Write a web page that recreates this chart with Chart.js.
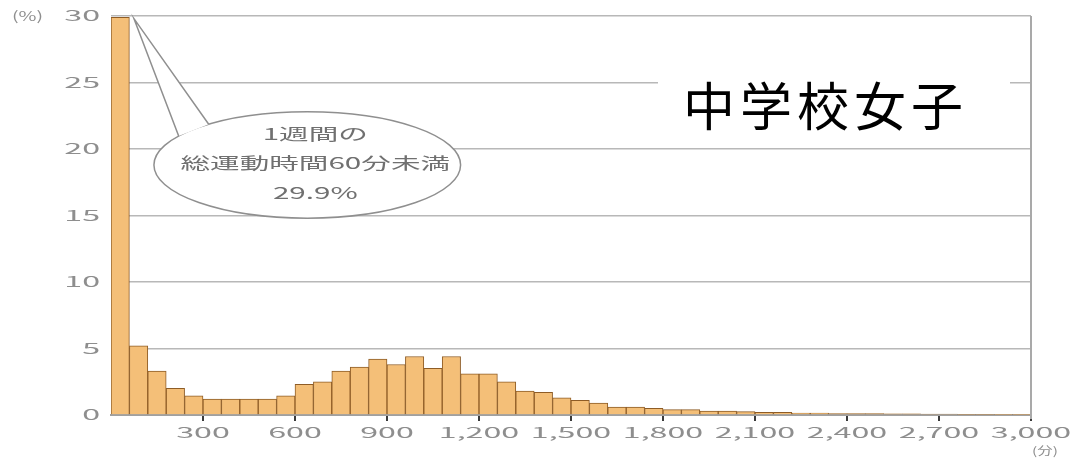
<!DOCTYPE html>
<html lang="ja">
<head>
<meta charset="utf-8">
<script src="https://cdn.jsdelivr.net/npm/chart.js@4.4.1/dist/chart.umd.min.js"></script>
<style>
  html, body { margin: 0; padding: 0; background: #fff; }
  #wrap { width: 1070px; height: 460px; }
</style>
</head>
<body>
<div id="wrap"><canvas id="chart"></canvas></div>
<script>
// weekly total exercise time, 60-minute bins (start minute of each bin)
const binStarts = [
  0, 60, 120, 180, 240, 300, 360, 420, 480, 540,
  600, 660, 720, 780, 840, 900, 960, 1020, 1080, 1140,
  1200, 1260, 1320, 1380, 1440, 1500, 1560, 1620, 1680, 1740,
  1800, 1860, 1920, 1980, 2040, 2100, 2160, 2220, 2280, 2340,
  2400, 2460, 2520, 2580, 2640, 2700, 2760, 2820, 2880, 2940
];
const percents = [
  29.9, 5.2, 3.3, 2.0, 1.45, 1.2, 1.2, 1.2, 1.2, 1.45,
  2.3, 2.5, 3.3, 3.6, 4.2, 3.8, 4.4, 3.5, 4.4, 3.1,
  3.1, 2.5, 1.8, 1.7, 1.3, 1.1, 0.9, 0.6, 0.6, 0.5,
  0.4, 0.4, 0.3, 0.3, 0.25, 0.2, 0.2, 0.15, 0.15, 0.1,
  0.1, 0.1, 0.08, 0.08, 0.06, 0.06, 0.05, 0.05, 0.04, 0.04
];
const binWidth = 60;
const xTicks = [300, 600, 900, 1200, 1500, 1800, 2100, 2400, 2700, 3000];
const yTicks = [0, 5, 10, 15, 20, 25, 30];
const titleText = "中学校女子";
const calloutLines = ["1週間の", "総運動時間60分未満", "29.9%"];
const yUnit = "(%)";
const xUnit = "(分)";

const labelFont = '14px "Noto Sans CJK JP", "Noto Sans", sans-serif';
const labelColor = "#8e8e8e";

function fmtTick(v) {
  return v.toLocaleString("en-US");
}

// the picture is stretched sideways, so text is too
function wideText(ctx, text, x, y, sx, align) {
  ctx.save();
  ctx.translate(x, y);
  ctx.scale(sx, 1);
  ctx.textAlign = align;
  ctx.fillText(text, 0, 0);
  ctx.restore();
}

const overlay = {
  id: "overlay",
  afterDraw(chart) {
    const { ctx, chartArea: a } = chart;
    const xs = chart.scales.x;
    const ys = chart.scales.y;
    ctx.save();

    // right frame line
    ctx.strokeStyle = "#a9a9a9";
    ctx.lineWidth = 2;
    ctx.beginPath();
    ctx.moveTo(a.right, a.top);
    ctx.lineTo(a.right, a.bottom + 4);
    ctx.stroke();

    // tick labels
    ctx.fillStyle = labelColor;
    ctx.font = labelFont;
    ctx.textBaseline = "middle";
    yTicks.forEach(v => {
      wideText(ctx, String(v), a.left - 11, ys.getPixelForValue(v), 2.3, "right");
    });
    ctx.font = '13px "Noto Sans CJK JP", sans-serif';
    wideText(ctx, yUnit, 12, ys.getPixelForValue(30), 1.5, "left");
    ctx.font = labelFont;
    xTicks.forEach(v => {
      wideText(ctx, fmtTick(v), xs.getPixelForValue(v), a.bottom + 18, 2.3, "center");
    });
    ctx.font = '11px "Noto Sans CJK JP", sans-serif';
    wideText(ctx, xUnit, xs.getPixelForValue(3000) + 14, a.bottom + 36, 1.4, "center");

    // callout bubble
    const cx = xs.getPixelForValue(640);
    const cy = ys.getPixelForValue(18.8);
    const rx = xs.getPixelForValue(500) - xs.getPixelForValue(0);
    const ry = ys.getPixelForValue(0) - ys.getPixelForValue(4);
    const apx = xs.getPixelForValue(75);
    const apy = ys.getPixelForValue(29.8);
    const t1 = -147 * Math.PI / 180;
    const t2 = -130 * Math.PI / 180;
    const p1 = [cx + rx * Math.cos(t1), cy + ry * Math.sin(t1)];
    const p2 = [cx + rx * Math.cos(t2), cy + ry * Math.sin(t2)];

    ctx.strokeStyle = "#8f8f8f";
    ctx.lineWidth = 1.5;
    ctx.fillStyle = "#fff";
    ctx.beginPath();
    ctx.ellipse(cx, cy, rx, ry, 0, 0, Math.PI * 2);
    ctx.fill();
    ctx.stroke();

    ctx.beginPath();
    ctx.moveTo(p1[0], p1[1]);
    ctx.lineTo(apx, apy);
    ctx.lineTo(p2[0], p2[1]);
    ctx.closePath();
    ctx.fill();
    ctx.beginPath();
    ctx.moveTo(p1[0], p1[1]);
    ctx.lineTo(apx, apy);
    ctx.lineTo(p2[0], p2[1]);
    ctx.stroke();

    ctx.fillStyle = "#707070";
    ctx.font = '16px "Noto Sans CJK JP", sans-serif';
    const tx = cx + 8;
    wideText(ctx, calloutLines[0], tx, cy - 31, 1.85, "center");
    wideText(ctx, calloutLines[1], tx, cy - 2, 1.85, "center");
    wideText(ctx, calloutLines[2], tx, cy + 28, 1.85, "center");

    // title
    ctx.fillStyle = "#fff";
    ctx.fillRect(658, 70, 352, 70);
    ctx.fillStyle = "#000";
    ctx.font = '52px "Noto Sans CJK JP", sans-serif';
    ctx.textAlign = "left";
    ctx.textBaseline = "middle";
    let px = 683;
    for (const ch of titleText) {
      ctx.fillText(ch, px, 106);
      px += ctx.measureText(ch).width + 5;
    }

    ctx.restore();
  }
};

const ctx = document.getElementById("chart").getContext("2d");
new Chart(ctx, {
  type: "bar",
  data: {
    datasets: [{
      data: binStarts.map((s, i) => ({ x: s + binWidth / 2, y: percents[i] })),
      backgroundColor: "#f4bf78",
      borderColor: "#8e5c26",
      borderWidth: 1,
      barPercentage: 1,
      categoryPercentage: 1
    }]
  },
  options: {
    responsive: true,
    maintainAspectRatio: false,
    animation: false,
    devicePixelRatio: 1,
    layout: { padding: { top: 16, right: 39, left: 0, bottom: 0 } },
    plugins: { legend: { display: false }, tooltip: { enabled: false } },
    scales: {
      x: {
        type: "linear",
        offset: false,
        min: 0,
        max: 3000,
        afterBuildTicks: s => { s.ticks = xTicks.map(v => ({ value: v })); },
        afterFit: s => { s.height = 45; },
        ticks: { display: false },
        grid: { drawOnChartArea: false, drawTicks: true, tickLength: 6, color: "#3a3a3a", lineWidth: 2, offset: false },
        border: { display: true, color: "#a0a0a0", width: 2 }
      },
      y: {
        min: 0,
        max: 30,
        afterBuildTicks: s => { s.ticks = yTicks.map(v => ({ value: v })); },
        afterFit: s => { s.width = 111; },
        ticks: { display: false },
        grid: { color: "#b8b8b8", lineWidth: 1.5, drawTicks: false },
        border: { display: false }
      }
    }
  },
  plugins: [overlay]
});
</script>
</body>
</html>
